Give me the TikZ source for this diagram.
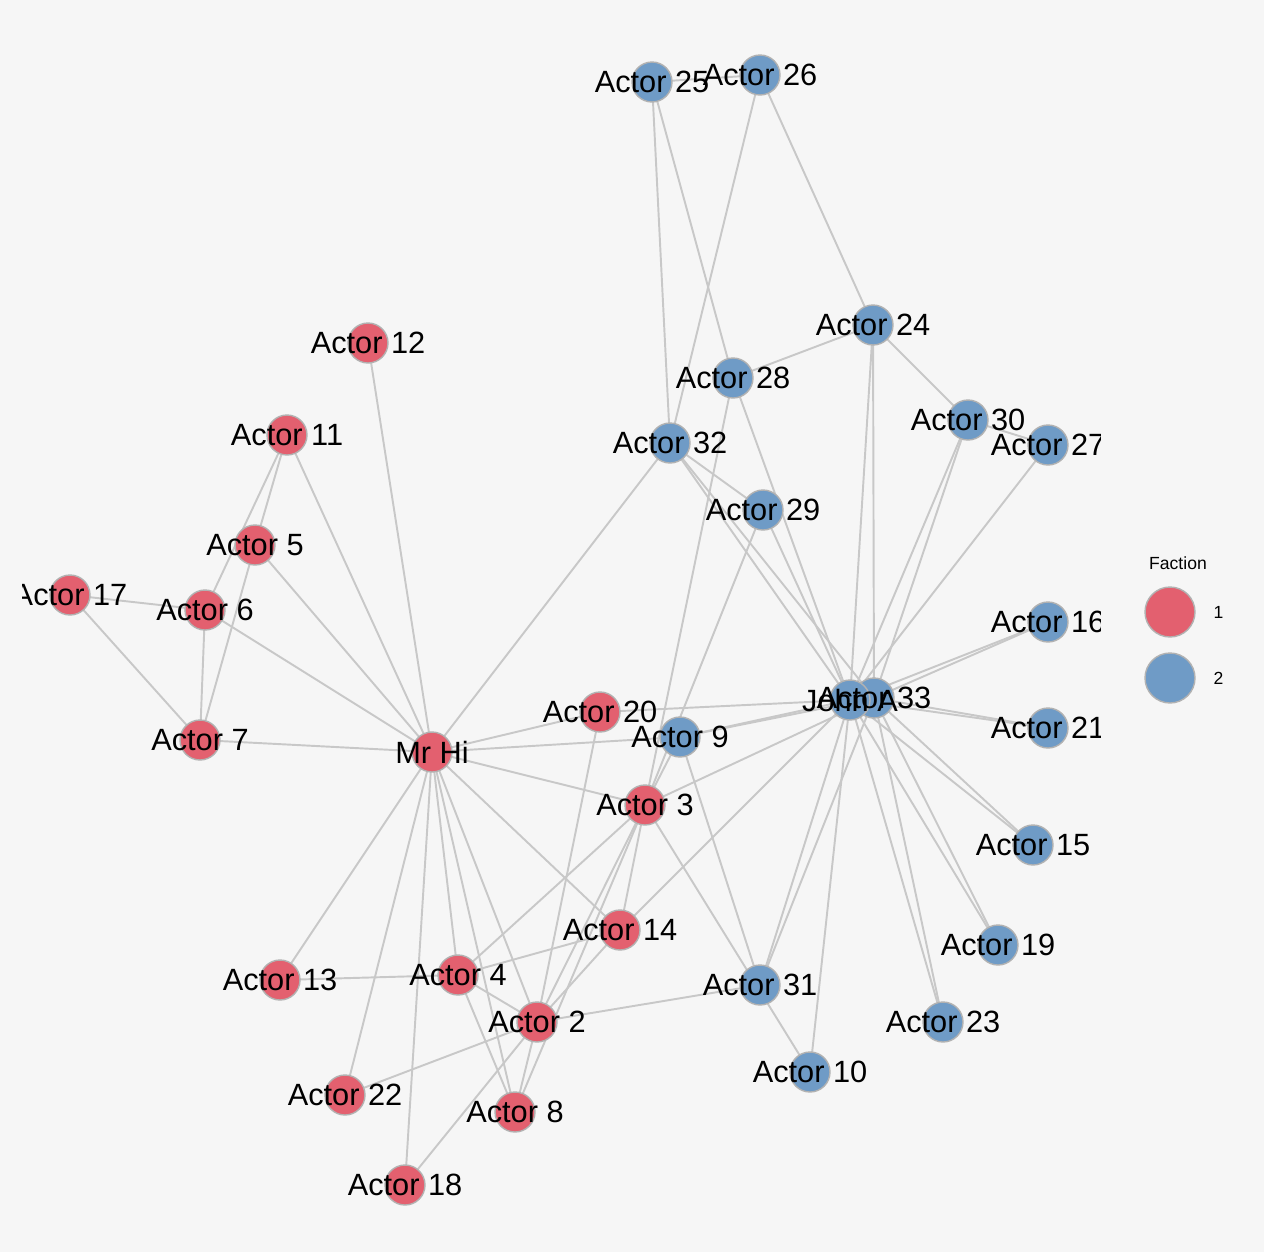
\documentclass[tikz,border=0pt]{standalone}
\usepackage{fontspec}
\setmainfont{Liberation Sans}
\usetikzlibrary{positioning}
\definecolor{panelbg}{HTML}{F6F6F6}
\definecolor{tiegray}{HTML}{C8C8C8}
\definecolor{facone}{HTML}{E3606F}
\definecolor{factwo}{HTML}{6F9BC6}
\begin{document}
\begin{tikzpicture}[x=0.02cm,y=-0.02cm,
  tie/.style={draw=tiegray,line width=1.1pt},
  dotone/.style={circle,fill=facone,draw=gray!60,line width=0.8pt,minimum size=0.8cm,inner sep=0pt},
  dottwo/.style={circle,fill=factwo,draw=gray!60,line width=0.8pt,minimum size=0.8cm,inner sep=0pt},
  actorlabel/.style={font=\fontsize{17.5}{20}\selectfont,inner sep=0pt},
  keylabel/.style={font=\fontsize{10}{12}\selectfont,inner sep=0pt}]
\fill[panelbg] (0,0) rectangle (1264,1252);
\useasboundingbox (0,0) rectangle (1264,1252);
\foreach \i/\x/\y in {1/432/752, 2/537/1022, 3/645/805, 4/458/975, 5/255/545, 6/205/610,
  7/200/740, 8/515/1112, 9/680/737, 10/810/1072, 11/287/435, 12/368/343, 13/280/980,
  14/620/930, 15/1033/845, 16/1048/622, 17/70/595, 18/405/1185, 19/998/945, 20/600/712,
  21/1048/728, 22/345/1095, 23/943/1022, 24/873/325, 25/652/82, 26/760/75, 27/1048/445,
  28/733/378, 29/763/510, 30/968/420, 31/760/985, 32/670/443, 33/874/698, 34/850/700}
  \coordinate (a\i) at (\x,\y);
\begin{scope}
\clip (22,0) rectangle (1100,1252);
\foreach \a/\b in {1/2,1/3,1/4,1/5,1/6,1/7,1/8,1/9,1/11,1/12,1/13,1/14,1/18,1/20,1/22,1/32,
  2/3,2/4,2/8,2/14,2/18,2/20,2/22,2/31,
  3/4,3/8,3/9,3/10,3/14,3/28,3/29,3/33,
  4/8,4/13,4/14,5/7,5/11,6/7,6/11,6/17,7/17,
  9/31,9/33,9/34,10/34,14/34,15/33,15/34,16/33,16/34,19/33,19/34,20/34,21/33,21/34,23/33,23/34,
  24/26,24/28,24/30,24/33,24/34,25/26,25/28,25/32,26/32,27/30,27/34,28/34,
  29/32,29/34,30/33,30/34,31/33,31/34,32/33,32/34,33/34}
  \path[tie] (a\a) -- (a\b);
\foreach \i in {1,2,3,4,5,6,7,8,11,12,13,14,17,18,20,22}
  \node[dotone] (d\i) at (a\i) {};
\foreach \i in {9,10,15,16,19,21,23,24,25,26,27,28,29,30,31,32,33,34}
  \node[dottwo] (d\i) at (a\i) {};
\node[actorlabel] (t1) at (a1) {Mr Hi};
\foreach \i in {2,...,33}
  \node[actorlabel] (t\i) at (a\i) {Actor \i};
\node[actorlabel] (t34) at (a34) {John A};
\end{scope}
\node[keylabel] (keytitle) at (1178,563) {Faction};
\node[dotone,minimum size=1cm] (keyone) at (1170,612) {};
\node[dottwo,minimum size=1cm] (keytwo) at (1170,678) {};
\node[keylabel,right=0.35cm of keyone] (keyonetext) {1};
\node[keylabel,right=0.35cm of keytwo] (keytwotext) {2};
\end{tikzpicture}
\end{document}
